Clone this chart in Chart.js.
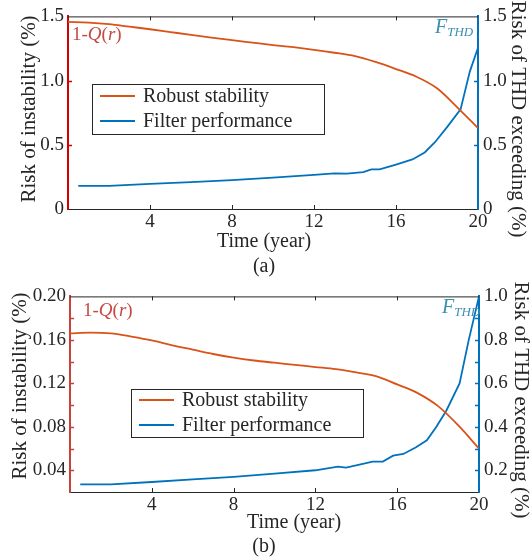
<!DOCTYPE html>
<html>
<head>
<meta charset="utf-8">
<script src="https://cdn.jsdelivr.net/npm/chart.js@4.4.1/dist/chart.umd.min.js"></script>
<style>
  html, body { margin: 0; padding: 0; background: #ffffff; }
  #wrap { position: relative; width: 530px; height: 560px; }
  .panel { position: absolute; left: 0; width: 530px; height: 280px; }
</style>
</head>
<body>
<div id="wrap">
  <div class="panel" style="top:0"><canvas id="chartA" width="530" height="280"></canvas></div>
  <div class="panel" style="top:280px"><canvas id="chartB" width="530" height="280"></canvas></div>
</div>
<script>
// Service time axis (years)
const stabilityYears = [0, 1, 2, 3, 4, 5, 6, 7, 8, 9, 10, 11, 12, 13, 14, 15, 16, 17, 18, 19, 20];

// Panel (a): risk of instability 1-Q(r), in %
const stabilityA = [1.457, 1.452, 1.440, 1.420, 1.400, 1.378, 1.356, 1.335, 1.315, 1.296, 1.277,
                    1.260, 1.240, 1.217, 1.190, 1.145, 1.090, 1.030, 0.940, 0.790, 0.630];
// Panel (a): risk of THD exceeding F_THD, in %
const thdYearsA = [0.5, 2, 4, 6, 8, 10, 12, 13, 13.6, 14.4, 14.8, 15.2, 16, 16.8, 17.4, 17.9, 18.5, 19.15, 19.6, 20];
const thdA      = [0.18, 0.18, 0.195, 0.21, 0.225, 0.245, 0.265, 0.278, 0.275, 0.288, 0.308, 0.308,
                   0.346, 0.386, 0.44, 0.52, 0.64, 0.776, 1.07, 1.255];

// Panel (b): risk of instability 1-Q(r), in %
const stabilityB = [0.166, 0.1667, 0.166, 0.163, 0.1595, 0.155, 0.151, 0.147, 0.1436, 0.141, 0.139,
                    0.137, 0.135, 0.133, 0.130, 0.1264, 0.119, 0.111, 0.099, 0.081, 0.060];
// Panel (b): risk of THD exceeding F_THD, in %
const thdYearsB = [0.5, 2, 4, 6, 8, 10, 12, 13.1, 13.5, 14.1, 14.8, 15.3, 15.8, 16.3, 16.9, 17.45, 17.9, 18.4, 19.05, 19.5, 20];
const thdB      = [0.135, 0.135, 0.146, 0.158, 0.17, 0.185, 0.2, 0.217, 0.212, 0.225, 0.24, 0.24,
                   0.267, 0.275, 0.305, 0.338, 0.398, 0.474, 0.60, 0.80, 1.0];

// Tick values
const yearTicks = [4, 8, 12, 16, 20];
const leftTicksA = [0, 0.5, 1.0, 1.5];
const rightTicksA = [0, 0.5, 1.0, 1.5];
const leftTicksB = [0.04, 0.08, 0.12, 0.16, 0.20];
const rightTicksB = [0.2, 0.4, 0.6, 0.8, 1.0];

const legendLabels = ['Robust stability', 'Filter performance'];

const SERIF = '"Liberation Serif", "Times New Roman", serif';
const ORANGE = '#D95319';
const BLUE = '#0072BD';
const INK = '#262626';
const RED_AXIS_A = '#d40000';
const RED_AXIS_B = '#c8423a';
const NOTE_RED = '#c44a44';
const NOTE_TEAL = '#3a8fb2';

function pts(xs, ys) { return xs.map((x, i) => ({ x: x, y: ys[i] })); }

function drawRich(ctx, parts, x, y) {
  let cx = x;
  for (const p of parts) {
    ctx.font = (p.italic ? 'italic ' : '') + p.size + 'px ' + SERIF;
    ctx.fillText(p.t, cx, y + (p.dy || 0));
    cx += ctx.measureText(p.t).width;
  }
}

// Frame, inward ticks, titles, notes and the legend
const decor = {
  id: 'decor',
  afterDraw(chart) {
    const d = chart.options.plugins.decor;
    const ctx = chart.ctx;
    const a = chart.chartArea;
    const xs = chart.scales.x, yl = chart.scales.yL, yr = chart.scales.yR;
    const TL = 4;
    ctx.save();
    // top frame
    ctx.strokeStyle = INK; ctx.lineWidth = 1;
    ctx.beginPath(); ctx.moveTo(a.left, a.top + 0.5); ctx.lineTo(a.right, a.top + 0.5); ctx.stroke();
    // x ticks (bottom + top)
    ctx.beginPath();
    for (const t of xs.ticks) {
      if (t.value <= xs.min || t.value >= xs.max) continue;
      const px = Math.round(xs.getPixelForValue(t.value)) + 0.5;
      ctx.moveTo(px, a.bottom); ctx.lineTo(px, a.bottom - TL);
      ctx.moveTo(px, a.top); ctx.lineTo(px, a.top + TL);
    }
    ctx.stroke();
    // left ticks
    ctx.strokeStyle = d.leftColor; ctx.lineWidth = 1.5;
    ctx.beginPath();
    for (const t of yl.ticks) {
      if (t.value <= yl.min + 1e-9 || t.value >= yl.max - 1e-9) continue;
      const py = Math.round(yl.getPixelForValue(t.value)) + 0.5;
      ctx.moveTo(a.left, py); ctx.lineTo(a.left + TL, py);
    }
    ctx.stroke();
    // right ticks
    ctx.strokeStyle = BLUE;
    ctx.beginPath();
    for (const t of yr.ticks) {
      if (t.value <= yr.min + 1e-9 || t.value >= yr.max - 1e-9) continue;
      const py = Math.round(yr.getPixelForValue(t.value)) + 0.5;
      ctx.moveTo(a.right, py); ctx.lineTo(a.right - TL, py);
    }
    ctx.stroke();

    // axis titles
    ctx.fillStyle = INK;
    ctx.font = d.titleSize + 'px ' + SERIF;
    ctx.textAlign = 'center'; ctx.textBaseline = 'middle';
    ctx.save(); ctx.translate(d.leftTitle[0], d.leftTitle[1]); ctx.rotate(-Math.PI / 2);
    ctx.fillText('Risk of instability (%)', 0, 0); ctx.restore();
    ctx.save(); ctx.translate(d.rightTitle[0], d.rightTitle[1]); ctx.rotate(Math.PI / 2);
    ctx.fillText('Risk of THD exceeding (%)', 0, 0); ctx.restore();
    ctx.textBaseline = 'alphabetic';
    ctx.font = d.xTitleSize + 'px ' + SERIF;
    ctx.fillText('Time (year)', d.xTitle[0], d.xTitle[1]);
    ctx.fillText(d.tag, d.tagPos[0], d.tagPos[1]);

    // notes
    ctx.textAlign = 'left';
    ctx.fillStyle = NOTE_RED;
    drawRich(ctx, [
      { t: '1-', size: 19 }, { t: 'Q', size: 19, italic: true },
      { t: '(', size: 19 }, { t: 'r', size: 19, italic: true }, { t: ')', size: 19 }
    ], d.qPos[0], d.qPos[1]);
    ctx.fillStyle = NOTE_TEAL;
    drawRich(ctx, [
      { t: 'F', size: 20, italic: true }, { t: 'THD', size: 13, italic: true, dy: 3 }
    ], d.fPos[0], d.fPos[1]);

    // legend
    const L = d.legend;
    ctx.fillStyle = '#ffffff';
    ctx.fillRect(L.x, L.y, L.w, L.h);
    ctx.strokeStyle = INK; ctx.lineWidth = 1;
    ctx.strokeRect(L.x + 0.5, L.y + 0.5, L.w, L.h);
    const colors = [ORANGE, BLUE];
    ctx.font = d.legendSize + 'px ' + SERIF;
    ctx.textBaseline = 'middle';
    legendLabels.forEach((lab, i) => {
      const yy = L.y + L.row0 + i * L.rowGap;
      ctx.strokeStyle = colors[i]; ctx.lineWidth = 2;
      ctx.beginPath(); ctx.moveTo(L.x + 8, yy); ctx.lineTo(L.x + 43, yy); ctx.stroke();
      ctx.fillStyle = INK;
      ctx.fillText(lab, L.x + 51, yy + 1);
    });
    ctx.restore();
  }
};

function makeChart(id, p) {
  const tickFont = { family: SERIF, size: 19 };
  return new Chart(document.getElementById(id), {
    type: 'line',
    data: {
      datasets: [
        { label: legendLabels[0], data: pts(stabilityYears, p.stab), yAxisID: 'yL',
          borderColor: ORANGE, borderWidth: 1.8, pointRadius: 0, cubicInterpolationMode: 'monotone', fill: false },
        { label: legendLabels[1], data: pts(p.thdYears, p.thd), yAxisID: 'yR',
          borderColor: BLUE, borderWidth: 1.8, pointRadius: 0, tension: 0, fill: false }
      ]
    },
    options: {
      responsive: false, animation: false, events: [],
      layout: { padding: { top: p.top, left: 0, right: 0, bottom: 0 } },
      plugins: { legend: { display: false }, tooltip: { enabled: false }, decor: p.decor },
      scales: {
        x: {
          type: 'linear', min: 0, max: 20,
          afterBuildTicks: s => { s.ticks = [0].concat(yearTicks).map(v => ({ value: v })); },
          ticks: { callback: v => (v === 0 ? '' : String(v)), color: INK, font: tickFont, padding: 2,
                   maxRotation: 0, autoSkip: false },
          grid: { display: false, drawTicks: false },
          border: { color: INK, width: 1 },
          afterFit: s => { s.height = p.xHeight; }
        },
        yL: {
          position: 'left', min: p.lMin, max: p.lMax,
          afterBuildTicks: s => { s.ticks = p.lTicksAll.map(v => ({ value: v })); },
          ticks: { callback: p.lFmt, color: INK, font: tickFont, padding: 4, autoSkip: false },
          grid: { display: false, drawTicks: false },
          border: { color: p.decor.leftColor, width: 2 },
          afterFit: s => { s.width = p.lWidth; }
        },
        yR: {
          position: 'right', min: p.rMin, max: p.rMax,
          afterBuildTicks: s => { s.ticks = p.rTicksAll.map(v => ({ value: v })); },
          ticks: { callback: p.rFmt, color: INK, font: tickFont, padding: 5, autoSkip: false },
          grid: { display: false, drawTicks: false },
          border: { color: BLUE, width: 2 },
          afterFit: s => { s.width = p.rWidth; }
        }
      }
    },
    plugins: [decor]
  });
}

function inList(list, v) { return list.some(t => Math.abs(t - v) < 1e-6); }

// Panel (a)
makeChart('chartA', {
  stab: stabilityA, thdYears: thdYearsA, thd: thdA,
  top: 10, xHeight: 71, lWidth: 68, rWidth: 52,
  lMin: 0, lMax: 1.5, rMin: 0, rMax: 1.5,
  lTicksAll: leftTicksA, rTicksAll: rightTicksA,
  lFmt: v => (Math.abs(v) < 1e-9 ? '0' : v.toFixed(1)),
  rFmt: v => (Math.abs(v) < 1e-9 ? '0' : v.toFixed(1)),
  decor: {
    leftColor: RED_AXIS_A, titleSize: 21, xTitleSize: 20, legendSize: 20, tag: '(a)',
    leftTitle: [29, 109], rightTitle: [518, 119],
    xTitle: [264, 247], tagPos: [264, 272],
    qPos: [72, 40], fPos: [435, 33],
    legend: { x: 92, y: 84, w: 232, h: 50, row0: 12, rowGap: 25 }
  }
});

// Panel (b): minor ticks every 0.02 (left) and 0.1 (right), labels on every other one
const leftMinorB = [0.02, 0.04, 0.06, 0.08, 0.10, 0.12, 0.14, 0.16, 0.18, 0.20];
const rightMinorB = [0.1, 0.2, 0.3, 0.4, 0.5, 0.6, 0.7, 0.8, 0.9, 1.0];
makeChart('chartB', {
  stab: stabilityB, thdYears: thdYearsB, thd: thdB,
  top: 12, xHeight: 68, lWidth: 70, rWidth: 51,
  lMin: 0.02, lMax: 0.20, rMin: 0.1, rMax: 1.0,
  lTicksAll: leftMinorB, rTicksAll: rightMinorB,
  lFmt: v => (inList(leftTicksB, v) ? v.toFixed(2) : ''),
  rFmt: v => (inList(rightTicksB, v) ? v.toFixed(1) : ''),
  decor: {
    leftColor: RED_AXIS_B, titleSize: 21, xTitleSize: 20, legendSize: 20, tag: '(b)',
    leftTitle: [20, 106], rightTitle: [521, 120],
    xTitle: [294, 248], tagPos: [264, 272],
    qPos: [83, 36], fPos: [442, 33],
    legend: { x: 131, y: 109, w: 232, h: 48, row0: 11, rowGap: 25 }
  }
});
</script>
</body>
</html>
